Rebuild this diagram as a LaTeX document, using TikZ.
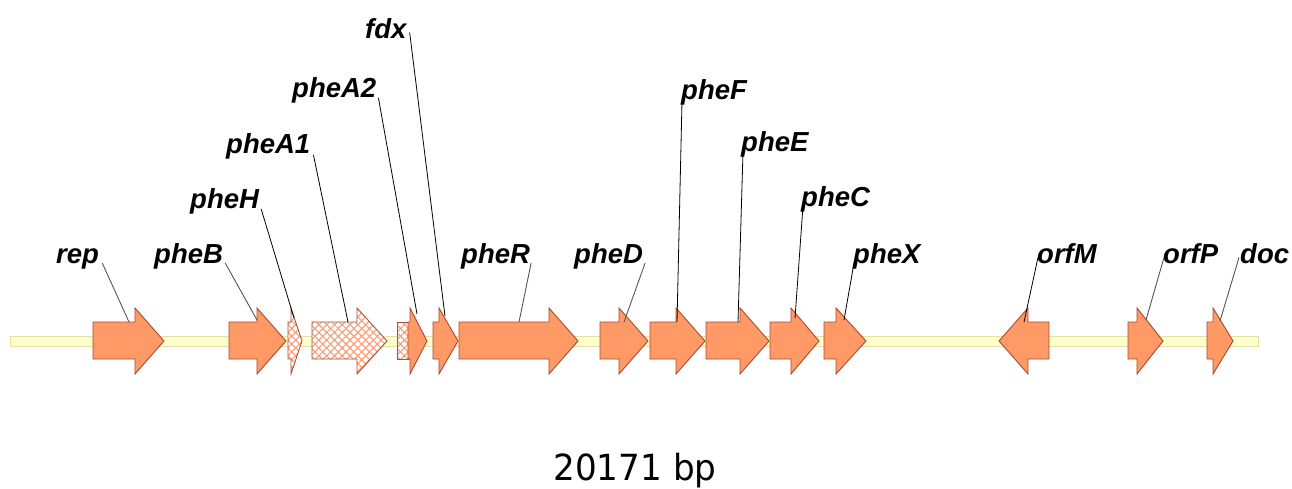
\documentclass[tikz,border=0pt]{standalone}
\usepackage{fontspec}
\setmainfont{Liberation Sans}
\newfontfamily\scalefont{DejaVu Sans}
\usetikzlibrary{patterns.meta}
\definecolor{genefill}{HTML}{FF9966}
\definecolor{geneedge}{HTML}{A84A32}
\definecolor{hatchcol}{HTML}{FF9A70}
\definecolor{trackfill}{HTML}{FFFFCC}
\definecolor{trackedge}{HTML}{E2E2A8}
\definecolor{leadgray}{HTML}{555555}

\tikzset{
  x=1pt, y=-1pt,
  genebox/.style={fill=genefill, draw=geneedge, line width=0.9pt, line join=miter},
  hatchedge/.style={draw=geneedge!80!gray, line width=0.9pt},
  hatchA/.style={pattern={Lines[angle=45,distance=5.5pt,line width=1.1pt]}, pattern color=hatchcol},
  hatchB/.style={pattern={Lines[angle=-45,distance=5.5pt,line width=1.1pt]}, pattern color=hatchcol},
  track/.style={fill=trackfill, draw=trackedge, line width=0.9pt},
  genelabel/.style={font=\fontsize{27.5}{30}\selectfont\bfseries\itshape, inner sep=0pt, anchor=base west},
  leader/.style={draw=black, line width=0.8pt},
  leadergray/.style={draw=leadgray, line width=0.9pt},
}

% right-pointing gene: body start, head base, tip
\newcommand\fwdpath[3]{(#1,322) -- (#2,322) -- (#2,308) -- (#3,341) -- (#2,374) -- (#2,359) -- (#1,359) -- cycle}
% left-pointing gene: tip, head base, body end
\newcommand\revpath[3]{(#3,322) -- (#2,322) -- (#2,308) -- (#1,341) -- (#2,374) -- (#2,359) -- (#3,359) -- cycle}
\newcommand\fwdgene[3]{\path[genebox] \fwdpath{#1}{#2}{#3};}
\newcommand\revgene[3]{\path[genebox] \revpath{#1}{#2}{#3};}
\newcommand\hatchgene[3]{%
  \path[fill=white] \fwdpath{#1}{#2}{#3};
  \path[hatchA] \fwdpath{#1}{#2}{#3};
  \path[hatchB] \fwdpath{#1}{#2}{#3};
  \path[hatchedge] \fwdpath{#1}{#2}{#3};}

\begin{document}
\begin{tikzpicture}
\useasboundingbox (0,0) rectangle (1292,488);

% backbone
\path[track] (10,336) rectangle (1258,346);

% genes
\fwdgene{93}{135}{164}
\fwdgene{229}{257}{286}
\hatchgene{288}{291}{302}
\hatchgene{312}{357}{387}
\path[fill=white] (397,322) rectangle (409,359);
\path[hatchA] (397,322) rectangle (409,359);
\path[hatchB] (397,322) rectangle (409,359);
\path[hatchedge] (397,322) rectangle (409,359);
\fwdgene{408}{410}{427}
\fwdgene{433}{439}{458}
\fwdgene{459}{549}{578}
\fwdgene{600}{619}{648}
\fwdgene{650}{676}{705}
\fwdgene{706}{740}{769}
\fwdgene{770}{791}{819}
\fwdgene{824}{836}{866}
\revgene{999}{1028}{1049}
\fwdgene{1128}{1137}{1163}
\fwdgene{1207}{1213}{1233}

% labels
\node[genelabel] (rep)   at (56,263)   {rep};
\node[genelabel] (pheB)  at (154,263)  {pheB};
\node[genelabel] (pheH)  at (190,208)  {pheH};
\node[genelabel] (pheA1) at (226,153)  {pheA1};
\node[genelabel] (pheA2) at (292,97)   {pheA2};
\node[genelabel] (fdx)   at (365,38)   {fdx};
\node[genelabel] (pheR)  at (461,263)  {pheR};
\node[genelabel] (pheD)  at (574,263)  {pheD};
\node[genelabel] (pheF)  at (681,99)   {pheF};
\node[genelabel] (pheE)  at (741,151)  {pheE};
\node[genelabel] (pheC)  at (801,206)  {pheC};
\node[genelabel] (pheX)  at (853,263)  {pheX};
\node[genelabel] (orfM)  at (1037,263) {orfM};
\node[genelabel] (orfP)  at (1163,263) {orfP};
\node[genelabel] (doc)   at (1240,263) {doc};

% leader ends on the genes
\coordinate (rep-g)   at (129,322);
\coordinate (pheB-g)  at (257,320);
\coordinate (pheH-g)  at (294,318);
\coordinate (pheA1-g) at (348,322);
\coordinate (pheA2-g) at (417,314);
\coordinate (fdx-g)   at (445,316);
\coordinate (pheR-g)  at (519,322);
\coordinate (pheD-g)  at (624,322);
\coordinate (pheF-g)  at (677,322);
\coordinate (pheE-g)  at (738,322);
\coordinate (pheC-g)  at (795,318);
\coordinate (pheX-g)  at (844,320);
\coordinate (orfM-g)  at (1024,322);
\coordinate (orfP-g)  at (1146,320);
\coordinate (doc-g)   at (1220,321);

% leaders
\draw[leadergray] (rep.south east)  ++(3,-6) coordinate (rep-t)   -- (rep-g);
\draw[leadergray] (pheB.south east) ++(2,-6) coordinate (pheB-t)  -- (pheB-g);
\draw[leader] (pheH.south east)  ++(2,-5) coordinate (pheH-t)  -- (pheH-g);
\draw[leader] (pheA1.south east) ++(3,-4) coordinate (pheA1-t) -- (pheA1-g);
\draw[leader] (pheA2.south east) ++(2,-5) coordinate (pheA2-t) -- (pheA2-g);
\draw[leader] (fdx.south east)   ++(3,-6) coordinate (fdx-t)   -- (fdx-g);
\draw[leadergray] (pheR.south east) ++(1,-6) coordinate (pheR-t)  -- (pheR-g);
\draw[leadergray] (pheD.south east) ++(2,-6) coordinate (pheD-t)  -- (pheD-g);
\draw[leader] (pheF.south west)  ++(1,-4) coordinate (pheF-t)  -- (pheF-g);
\draw[leader] (pheE.south west)  ++(2,-5) coordinate (pheE-t)  -- (pheE-g);
\draw[leader] (pheC.south west)  ++(2,-6) coordinate (pheC-t)  -- (pheC-g);
\draw[leader] (pheX.south west)  ++(1,-6) coordinate (pheX-t)  -- (pheX-g);
\draw[leader] (orfM.south west)  ++(1,-6) coordinate (orfM-t)  -- (orfM-g);
\draw[leadergray] (orfP.south west) ++(1,-6) coordinate (orfP-t) -- (orfP-g);
\draw[leadergray] (doc.south west)  ++(-1,-6) coordinate (doc-t)  -- (doc-g);

% sequence length
\node[inner sep=0pt, anchor=base] (len) at (635,480)
  {\scalebox{0.95}[1]{\scalefont\fontsize{36}{38}\selectfont 20171 bp}};
\end{tikzpicture}
\end{document}
